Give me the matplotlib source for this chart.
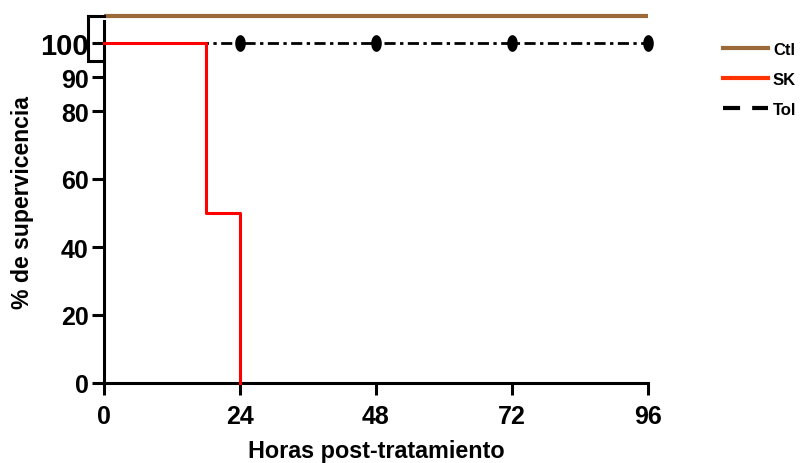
import numpy as np
import matplotlib
matplotlib.use("Agg")
import matplotlib.pyplot as plt
from matplotlib.lines import Line2D
from matplotlib.path import Path

plt.rcParams['font.family'] = ['Liberation Sans', 'DejaVu Sans']
plt.rcParams['font.weight'] = 'bold'

# data
ctl_t = [0, 96]
ctl_y = [108, 108]   # drawn offset above 100 in the original
sk_t = [0, 18, 24]
sk_y = [100, 50, 0]
tol_t = [0, 24, 48, 72, 96]
tol_y = [100, 100, 100, 100, 100]

x_ticks = [0, 24, 48, 72, 96]
y_ticks = [0, 20, 40, 60, 80, 90, 100]

fig = plt.figure(figsize=(8.01, 4.64), dpi=100)
ax = fig.add_axes([104/801, 1 - 384/464, 544/801, 374/464])
ax.set_xlim(0, 96)
ax.set_ylim(0, 110)

# tall ellipse marker
th = np.linspace(0, 2*np.pi, 40)
ell = Path(np.column_stack([0.6*np.cos(th), np.sin(th)]))

ax.plot(ctl_t, ctl_y, color='#9a6a38', lw=3, solid_capstyle='butt', clip_on=False, zorder=3)
ax.plot(tol_t, tol_y, color='black', lw=2, ls=(0, (4, 1.6, 1.2, 1.6)),
        marker=ell, markersize=11, markevery=[1, 2, 3, 4], clip_on=False, zorder=3)
ax.step(sk_t, sk_y, where='post', color='#ff0000', lw=2.2, clip_on=False, zorder=4)

# bracket at the top of the y axis
ax.plot([-2.8, -2.8, 0], [108, 94.7, 94.7], color='black', lw=2.2, clip_on=False,
        solid_joinstyle='miter', zorder=5)
ax.plot([-2.8, 0], [108, 108], color='black', lw=2.2, clip_on=False, zorder=5)

for s in ['top', 'right']:
    ax.spines[s].set_visible(False)
for s in ['left', 'bottom']:
    ax.spines[s].set_linewidth(2.2)
ax.spines['left'].set_bounds(0, 106.5)

ax.set_xticks(x_ticks)
ax.set_yticks(y_ticks)
ax.tick_params(axis='x', width=2.2, length=8.5, labelsize=18, pad=6.5)
ax.tick_params(axis='y', width=2.2, length=9, labelsize=18, pad=2)
for lab in ax.get_yticklabels():
    lab.set_fontweight('bold')
    if lab.get_text() == '100':
        lab.set_fontsize(21)
for lab in ax.get_xticklabels():
    lab.set_fontweight('bold')

ax.set_xlabel('Horas post-tratamiento', fontsize=16.8, fontweight='bold')
ax.set_ylabel('% de supervicencia', fontsize=16.6, fontweight='bold')
ax.xaxis.set_label_coords(0.5, -0.150)
ax.yaxis.set_label_coords(-0.128, 0.484)

handles = [Line2D([], [], color='#9a6a38', lw=3),
           Line2D([], [], color='#ff3300', lw=3),
           Line2D([], [], color='black', lw=3, ls=(0, (4.1, 2.9)))]
fig.legend(handles, ['Ctl', 'SK', 'Tol'], loc='upper left', bbox_to_anchor=(723/801, 1 - 43/464),
           frameon=False, prop={'weight': 'bold', 'size': 12}, borderpad=0, borderaxespad=0,
           handlelength=2.7, handletextpad=0.3, labelspacing=0.89)

fig.savefig('out.png', dpi=100)
